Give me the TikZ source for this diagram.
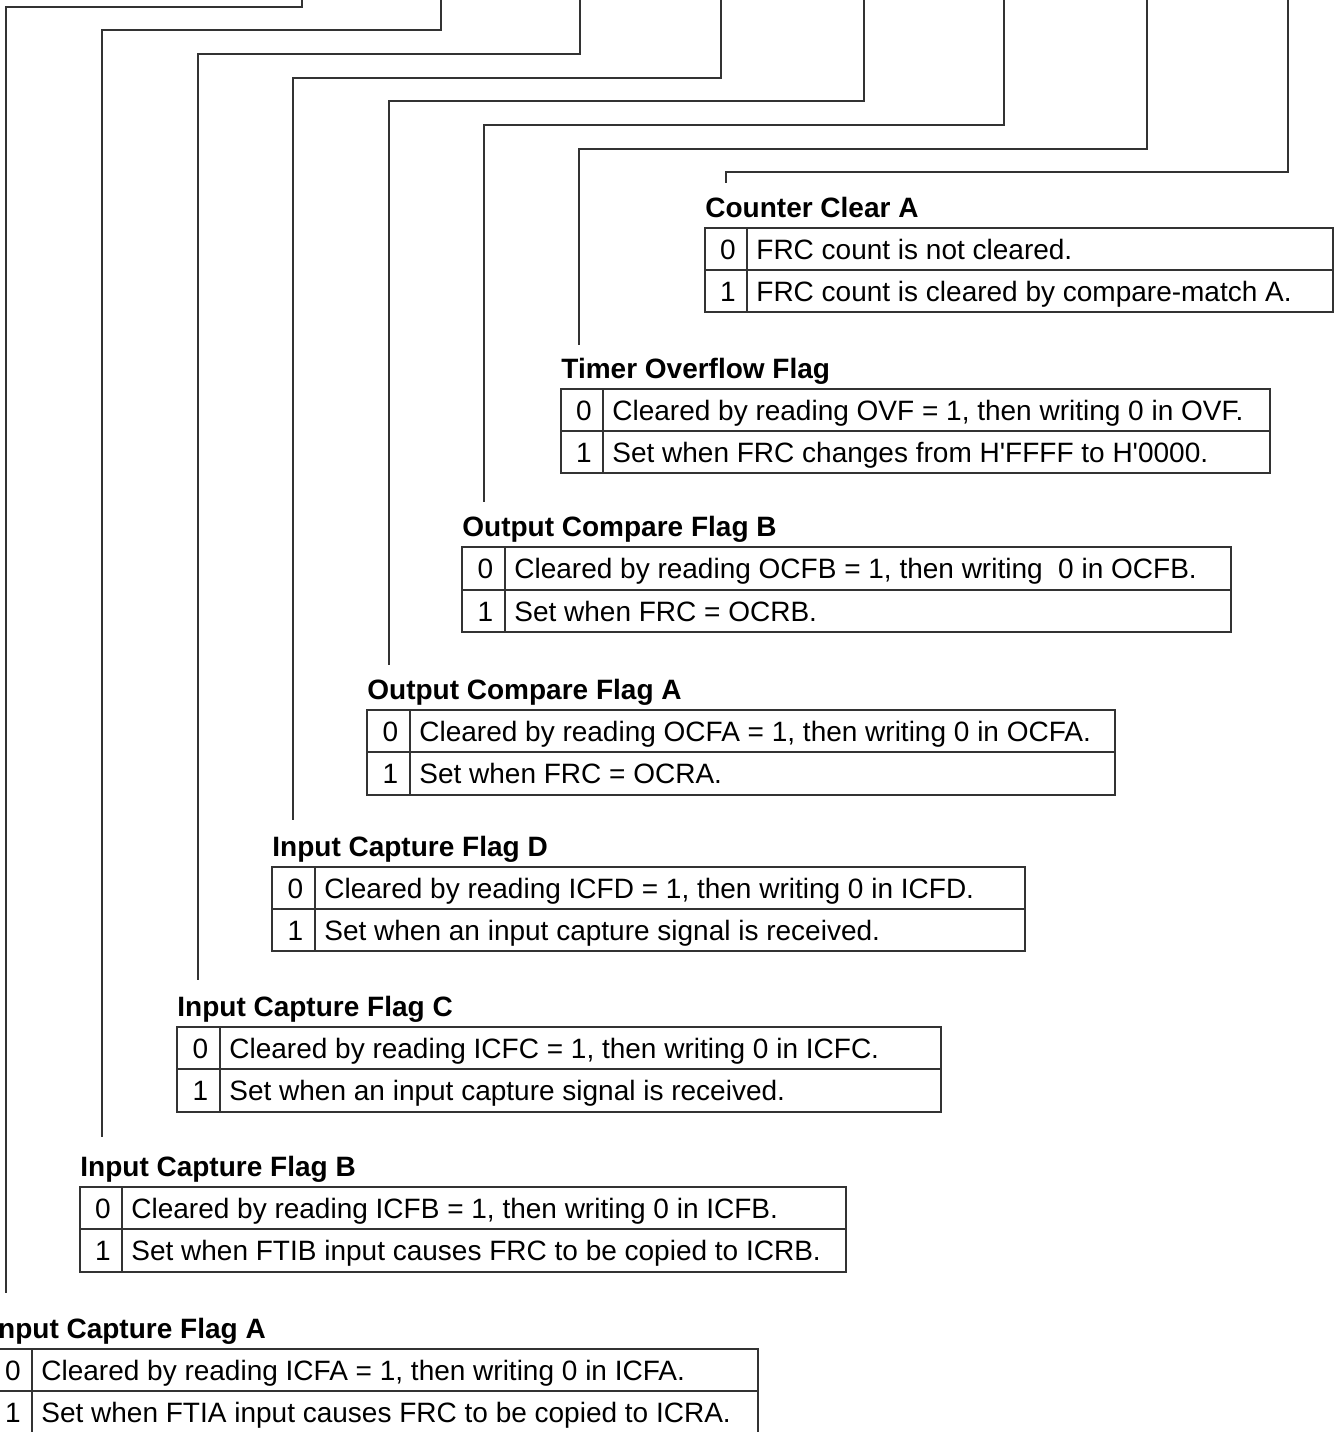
\documentclass[tikz,border=0pt]{standalone}
\usepackage{fontspec}
\newfontfamily\regfont{Liberation Sans}
\begin{document}
\begin{tikzpicture}[
    x=0.5pt,
    y=-0.5pt,
    font=\regfont\fontsize{14}{17}\selectfont,
    link/.style={black!80, line width=0.7pt},
    tblline/.style={black!80, line width=0.7pt},
    flagtitle/.style={anchor=base west, inner sep=0pt,
      font=\regfont\bfseries\fontsize{14}{17}\selectfont},
    bitval/.style={anchor=base, inner sep=0pt},
    rowtext/.style={anchor=base west, inner sep=0pt}
  ]
    \useasboundingbox (0,0) rectangle (1336,1432);

    % --- Counter Clear A (CCLRA) ---
    \coordinate (bCCLRA) at (1288,-2);
    \coordinate (eCCLRA) at (726,183);
    \draw[link] (bCCLRA) |- (726,172) -- (eCCLRA);
    \node[flagtitle] (tCCLRA) at (705,217) {Counter Clear A};
    \draw[tblline] (705,228) rectangle (1333,312);
    \draw[tblline] (705,270) -- (1333,270);
    \draw[tblline] (747,228) -- (747,312);
    \node[bitval] (vCCLRA0) at (728,259) {0};
    \node[rowtext] (dCCLRA0) at (756,259) {FRC count is not cleared.};
    \node[bitval] (vCCLRA1) at (728,301) {1};
    \node[rowtext] (dCCLRA1) at (756,301) {FRC count is cleared by compare-match A.};

    % --- Timer Overflow Flag (OVF) ---
    \coordinate (bOVF) at (1147,-2);
    \coordinate (eOVF) at (579,345);
    \draw[link] (bOVF) |- (579,149) -- (eOVF);
    \node[flagtitle] (tOVF) at (561,378) {Timer Overflow Flag};
    \draw[tblline] (561,389) rectangle (1270,473);
    \draw[tblline] (561,431) -- (1270,431);
    \draw[tblline] (603,389) -- (603,473);
    \node[bitval] (vOVF0) at (584,420) {0};
    \node[rowtext] (dOVF0) at (612,420) {Cleared by reading OVF = 1, then writing 0 in OVF.};
    \node[bitval] (vOVF1) at (584,462) {1};
    \node[rowtext] (dOVF1) at (612,462) {Set when FRC changes from H'FFFF to H'0000.};

    % --- Output Compare Flag B (OCFB) ---
    \coordinate (bOCFB) at (1004,-2);
    \coordinate (eOCFB) at (484,502);
    \draw[link] (bOCFB) |- (484,125) -- (eOCFB);
    \node[flagtitle] (tOCFB) at (462,536) {Output Compare Flag B};
    \draw[tblline] (462,547) rectangle (1231,632);
    \draw[tblline] (462,590) -- (1231,590);
    \draw[tblline] (505,547) -- (505,632);
    \node[bitval] (vOCFB0) at (485.5,578) {0};
    \node[rowtext] (dOCFB0) at (514,578) {Cleared by reading OCFB = 1, then writing~ 0 in OCFB.};
    \node[bitval] (vOCFB1) at (485.5,621) {1};
    \node[rowtext] (dOCFB1) at (514,621) {Set when FRC = OCRB.};

    % --- Output Compare Flag A (OCFA) ---
    \coordinate (bOCFA) at (864,-2);
    \coordinate (eOCFA) at (389,665);
    \draw[link] (bOCFA) |- (389,101) -- (eOCFA);
    \node[flagtitle] (tOCFA) at (367,699) {Output Compare Flag A};
    \draw[tblline] (367,710) rectangle (1115,795);
    \draw[tblline] (367,752) -- (1115,752);
    \draw[tblline] (410,710) -- (410,795);
    \node[bitval] (vOCFA0) at (390.5,741) {0};
    \node[rowtext] (dOCFA0) at (419,741) {Cleared by reading OCFA = 1, then writing 0 in OCFA.};
    \node[bitval] (vOCFA1) at (390.5,783) {1};
    \node[rowtext] (dOCFA1) at (419,783) {Set when FRC = OCRA.};

    % --- Input Capture Flag D (ICFD) ---
    \coordinate (bICFD) at (721,-2);
    \coordinate (eICFD) at (293,820);
    \draw[link] (bICFD) |- (293,78) -- (eICFD);
    \node[flagtitle] (tICFD) at (272,856) {Input Capture Flag D};
    \draw[tblline] (272,867) rectangle (1025,951);
    \draw[tblline] (272,909) -- (1025,909);
    \draw[tblline] (315,867) -- (315,951);
    \node[bitval] (vICFD0) at (295.5,898) {0};
    \node[rowtext] (dICFD0) at (324,898) {Cleared by reading ICFD = 1, then writing 0 in ICFD.};
    \node[bitval] (vICFD1) at (295.5,940) {1};
    \node[rowtext] (dICFD1) at (324,940) {Set when an input capture signal is received.};

    % --- Input Capture Flag C (ICFC) ---
    \coordinate (bICFC) at (580,-2);
    \coordinate (eICFC) at (198,980);
    \draw[link] (bICFC) |- (198,54) -- (eICFC);
    \node[flagtitle] (tICFC) at (177,1016) {Input Capture Flag C};
    \draw[tblline] (177,1027) rectangle (941,1112);
    \draw[tblline] (177,1069) -- (941,1069);
    \draw[tblline] (220,1027) -- (220,1112);
    \node[bitval] (vICFC0) at (200.5,1058) {0};
    \node[rowtext] (dICFC0) at (229,1058) {Cleared by reading ICFC = 1, then writing 0 in ICFC.};
    \node[bitval] (vICFC1) at (200.5,1100) {1};
    \node[rowtext] (dICFC1) at (229,1100) {Set when an input capture signal is received.};

    % --- Input Capture Flag B (ICFB) ---
    \coordinate (bICFB) at (441,-2);
    \coordinate (eICFB) at (102,1137);
    \draw[link] (bICFB) |- (102,30) -- (eICFB);
    \node[flagtitle] (tICFB) at (80,1176) {Input Capture Flag B};
    \draw[tblline] (80,1187) rectangle (846,1272);
    \draw[tblline] (80,1229) -- (846,1229);
    \draw[tblline] (122,1187) -- (122,1272);
    \node[bitval] (vICFB0) at (103,1218) {0};
    \node[rowtext] (dICFB0) at (131,1218) {Cleared by reading ICFB = 1, then writing 0 in ICFB.};
    \node[bitval] (vICFB1) at (103,1260) {1};
    \node[rowtext] (dICFB1) at (131,1260) {Set when FTIB input causes FRC to be copied to ICRB.};

    % --- Input Capture Flag A (ICFA), cut at the left and bottom edge ---
    \coordinate (bICFA) at (302,-2);
    \coordinate (eICFA) at (6,1293);
    \draw[link] (bICFA) |- (6,7) -- (eICFA);
    \node[flagtitle] (tICFA) at (-10,1338) {Input Capture Flag A};
    \draw[tblline] (-10,1349) rectangle (758,1433);
    \draw[tblline] (-10,1391) -- (758,1391);
    \draw[tblline] (32,1349) -- (32,1433);
    \node[bitval] (vICFA0) at (13,1380) {0};
    \node[rowtext] (dICFA0) at (41,1380) {Cleared by reading ICFA = 1, then writing 0 in ICFA.};
    \node[bitval] (vICFA1) at (13,1422) {1};
    \node[rowtext] (dICFA1) at (41,1422) {Set when FTIA input causes FRC to be copied to ICRA.};
  \end{tikzpicture}
\end{document}
